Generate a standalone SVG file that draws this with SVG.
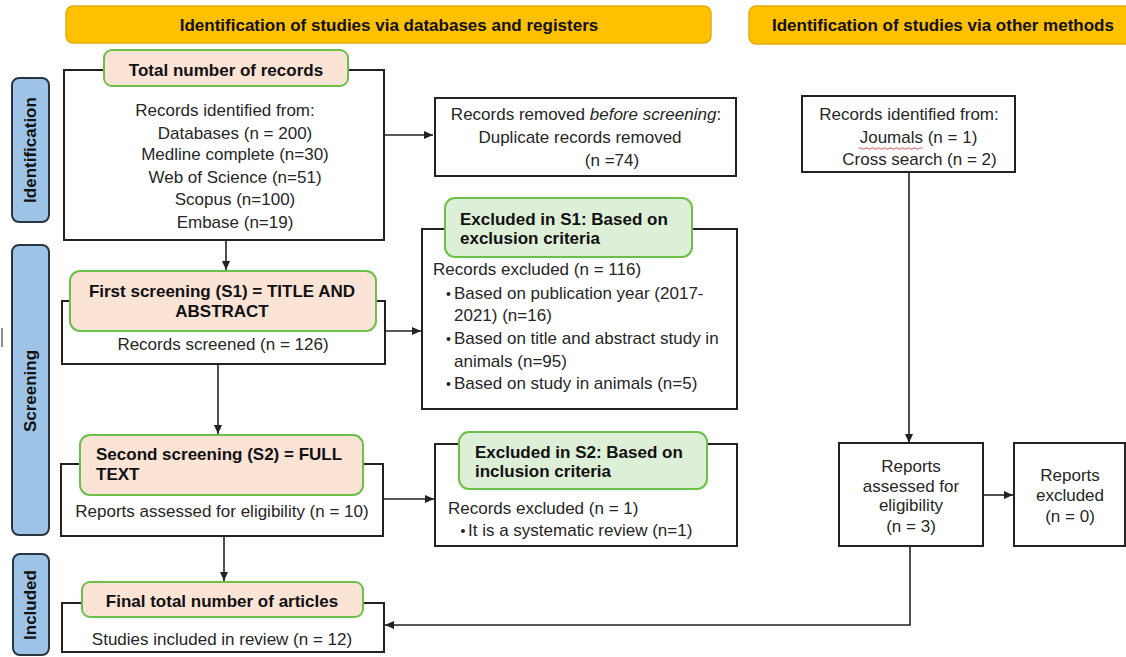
<svg xmlns="http://www.w3.org/2000/svg" width="1126" height="657" viewBox="0 0 1126 657">
<style>
text{font-family:"Liberation Sans",Arial,Helvetica,sans-serif;font-size:17px;fill:#262626}
.b{font-weight:bold;fill:#111}
.m{text-anchor:middle}
.hdr{fill:#FFC000;stroke:#E3AC12;stroke-width:1.5}
.side{fill:#9DC3E6;stroke:#2b3540;stroke-width:2}
.box{fill:#fff;stroke:#222;stroke-width:2}
.pl{fill:#FBE3D6;stroke:#6CC04A;stroke-width:2}
.gl{fill:#DDEFD7;stroke:#6CC04A;stroke-width:2}
.c{fill:none;stroke:#222;stroke-width:1.6}
</style>
<defs>
<marker id="ah" markerWidth="9" markerHeight="8" refX="9" refY="4" orient="auto" markerUnits="userSpaceOnUse">
<path d="M0,0 L9,4 L0,8 Z" fill="#222"/>
</marker>
</defs>
<rect width="1126" height="657" fill="#fff"/>

<g id="header-databases">
<rect class="hdr" x="66" y="6" width="645" height="37" rx="7"/>
<text class="b m" x="389" y="31">Identification of studies via databases and registers</text>
</g>
<g id="header-other">
<rect class="hdr" x="749" y="6" width="390" height="38" rx="7"/>
<text class="b" x="772" y="31">Identification of studies via other methods</text>
</g>

<g id="side-identification">
<rect class="side" x="12" y="78" width="37" height="144" rx="7"/>
<text class="b m" transform="translate(36,150) rotate(-90)">Identification</text>
</g>
<g id="side-screening">
<rect class="side" x="12" y="245" width="37" height="290" rx="7"/>
<text class="b m" transform="translate(36,391) rotate(-90)">Screening</text>
</g>
<g id="side-included">
<rect class="side" x="13" y="554" width="36" height="101" rx="7"/>
<text class="b m" transform="translate(36,605) rotate(-90)">Included</text>
</g>
<line x1="2" y1="328" x2="2" y2="347" stroke="#444" stroke-width="1.2"/>

<g id="connectors">
<line class="c" x1="384" y1="135" x2="433" y2="135" marker-end="url(#ah)"/>
<line class="c" x1="226" y1="240" x2="226" y2="270" marker-end="url(#ah)"/>
<line class="c" x1="385" y1="331" x2="421" y2="331" marker-end="url(#ah)"/>
<line class="c" x1="218" y1="364" x2="218" y2="434" marker-end="url(#ah)"/>
<line class="c" x1="383" y1="499" x2="434" y2="499" marker-end="url(#ah)"/>
<line class="c" x1="224" y1="536" x2="224" y2="581" marker-end="url(#ah)"/>
<line class="c" x1="909" y1="172" x2="909" y2="443" marker-end="url(#ah)"/>
<line class="c" x1="983" y1="495" x2="1013" y2="495" marker-end="url(#ah)"/>
<polyline class="c" points="910,546 910,625 385,625" marker-end="url(#ah)"/>
</g>

<g id="total-records">
<rect class="box" x="64" y="70" width="320" height="170"/>
<rect class="pl" x="104" y="50" width="244" height="36" rx="8"/>
<text class="b m" x="226" y="76">Total number of records</text>
<text class="m" x="225" y="116">Records identified from:</text>
<text class="m" x="235" y="139">Databases (n = 200)</text>
<text class="m" x="235" y="160">Medline complete (n=30)</text>
<text class="m" x="235" y="183">Web of Science (n=51)</text>
<text class="m" x="235" y="205">Scopus (n=100)</text>
<text class="m" x="235" y="228">Embase (n=19)</text>
</g>

<g id="records-removed">
<rect class="box" x="435" y="98" width="301" height="78"/>
<text class="m" x="586" y="120">Records removed <tspan font-style="italic">before screening</tspan>:</text>
<text class="m" x="580" y="143">Duplicate records removed</text>
<text class="m" x="612" y="166">(n =74)</text>
</g>

<g id="other-records">
<rect class="box" x="802" y="96" width="213" height="76"/>
<text class="m" x="909" y="120">Records identified from:</text>
<text class="m" x="918.5" y="143">Joumals (n = 1)</text>
<path d="M859,148.5 q1.5,-1.5 3,0 t3,0 t3,0 t3,0 t3,0 t3,0 t3,0 t3,0 t3,0 t3,0 t3,0 t3,0 t3,0 t3,0 t3,0 t3,0 t3,0 t3,0 t3,0 t3,0 t3,0" fill="none" stroke="#e04040" stroke-width="0.9"/>
<text class="m" x="919.5" y="165">Cross search (n = 2)</text>
</g>

<g id="first-screening">
<rect class="box" x="62" y="301" width="323" height="63"/>
<rect class="pl" x="70" y="271" width="306" height="60" rx="10"/>
<text class="b m" x="222" y="297">First screening (S1) = TITLE AND</text>
<text class="b m" x="222" y="317">ABSTRACT</text>
<text class="m" x="223" y="350">Records screened (n = 126)</text>
</g>

<g id="excluded-s1">
<rect class="box" x="422" y="229" width="315" height="180"/>
<rect class="gl" x="445" y="198" width="247" height="59" rx="10"/>
<text class="b" x="460" y="225">Excluded in S1: Based on</text>
<text class="b" x="460" y="244">exclusion criteria</text>
<text x="433" y="275">Records excluded (n = 116)</text>
<circle cx="448.5" cy="294" r="2" fill="#262626"/>
<text x="454" y="299">Based on publication year (2017-</text>
<text x="454" y="321">2021) (n=16)</text>
<circle cx="448.5" cy="339" r="2" fill="#262626"/>
<text x="454" y="344">Based on title and abstract study in</text>
<text x="454" y="367">animals (n=95)</text>
<circle cx="448.5" cy="384" r="2" fill="#262626"/>
<text x="454" y="389">Based on study in animals (n=5)</text>
</g>

<g id="second-screening">
<rect class="box" x="61" y="464" width="322" height="72"/>
<rect class="pl" x="80" y="435" width="283" height="60" rx="10"/>
<text class="b" x="96" y="460">Second screening (S2) = FULL</text>
<text class="b" x="96" y="480">TEXT</text>
<text class="m" x="222" y="517">Reports assessed for eligibility (n = 10)</text>
</g>

<g id="excluded-s2">
<rect class="box" x="435" y="444" width="302" height="102"/>
<rect class="gl" x="459" y="432" width="248" height="57" rx="10"/>
<text class="b" x="475" y="458">Excluded in S2: Based on</text>
<text class="b" x="475" y="477">inclusion criteria</text>
<text x="448" y="514">Records excluded (n = 1)</text>
<circle cx="463" cy="531" r="2" fill="#262626"/>
<text x="468" y="536">It is a systematic review (n=1)</text>
</g>

<g id="final-total">
<rect class="box" x="62" y="603" width="322" height="49"/>
<rect class="pl" x="82" y="582" width="281" height="35" rx="8"/>
<text class="b m" x="222" y="607">Final total number of articles</text>
<text class="m" x="222" y="645">Studies included in review (n = 12)</text>
</g>

<g id="reports-assessed">
<rect class="box" x="839" y="443" width="144" height="103"/>
<text class="m" x="911" y="472">Reports</text>
<text class="m" x="911" y="492">assessed for</text>
<text class="m" x="911" y="511">eligibility</text>
<text class="m" x="911" y="532">(n = 3)</text>
</g>

<g id="reports-excluded">
<rect class="box" x="1014" y="443" width="111" height="103"/>
<text class="m" x="1070" y="481">Reports</text>
<text class="m" x="1070" y="501">excluded</text>
<text class="m" x="1070" y="522">(n = 0)</text>
</g>
</svg>
